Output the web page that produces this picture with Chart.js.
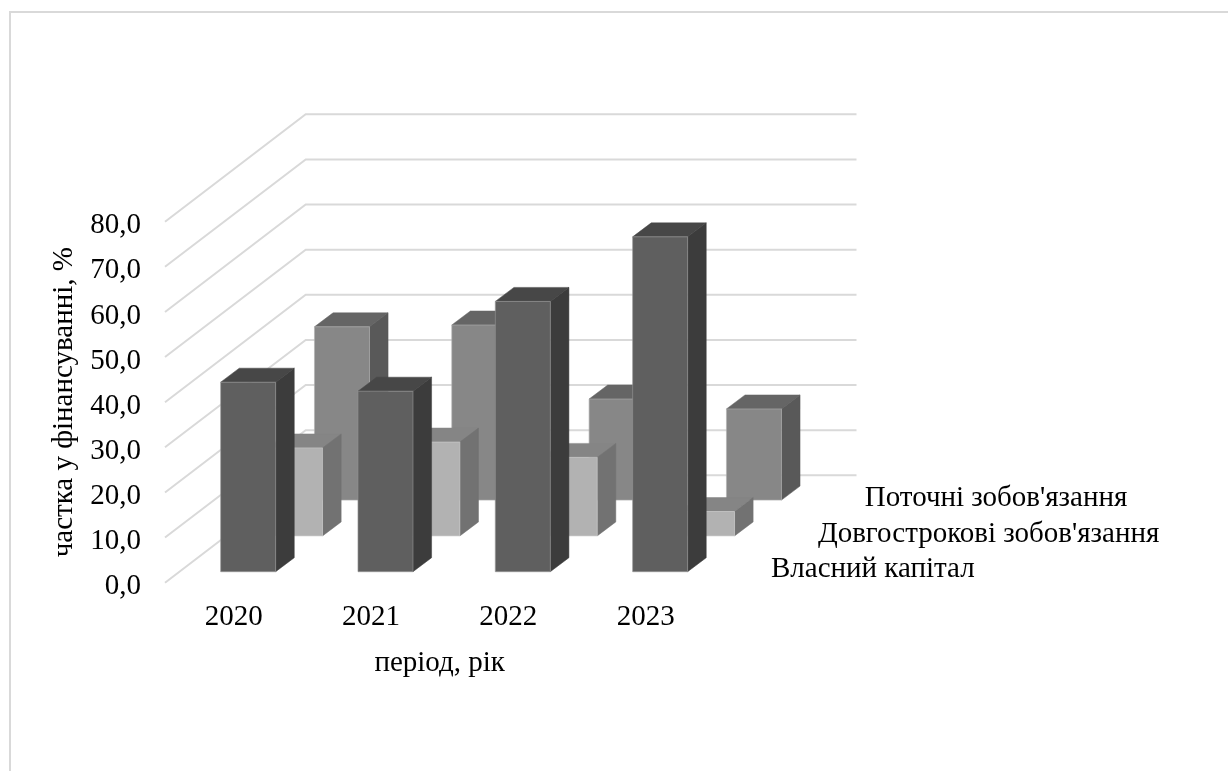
<!DOCTYPE html>
<html lang="uk">
<head>
<meta charset="utf-8">
<title>Структура фінансування</title>
<script src="https://cdn.jsdelivr.net/npm/chart.js@4/dist/chart.umd.js"></script>
<style>
    html, body { margin: 0; padding: 0; background: #fff; overflow: hidden; }
    canvas { display: block; }
</style>
</head>
<body>
<canvas id="financeChart" width="1228" height="771"></canvas>
<script>
const years = ['2020', '2021', '2022', '2023'];
const equity = [42.0, 40.0, 59.9, 74.2];
const longTerm = [19.5, 20.8, 17.4, 5.4];
const current = [38.4, 38.8, 22.4, 20.2];

const FONT = 'Liberation Serif';
const FONT_SIZE = 29;
const GRID = '#d9d9d9';

// one depth slot of the fake 3d floor, and how far a prism reaches inside it
const SLOT_DX = 46.9, SLOT_DY = -35.8;
const BAR_DX = 18.6, BAR_DY = -14;
const INSET_X = 14.5, INSET_Y = -11;

function poly(ctx, color, pts) {
    ctx.fillStyle = color;
    ctx.strokeStyle = color;
    ctx.lineWidth = 0.5;
    ctx.beginPath();
    pts.forEach((p, i) => i ? ctx.lineTo(p[0], p[1]) : ctx.moveTo(p[0], p[1]));
    ctx.closePath();
    ctx.fill();
    ctx.stroke();
}

// regular bar controller, except each element comes out as a prism pushed back into its slot
class Bar3dController extends Chart.BarController {
    draw() {
        const ctx = this.chart.ctx;
        const ds = this.getDataset();
        const i = this.index;
        const ox = INSET_X + i * SLOT_DX;
        const oy = INSET_Y + i * SLOT_DY;
        this.getMeta().data.forEach(bar => {
            const l = bar.x - bar.width / 2 + ox;
            const r = bar.x + bar.width / 2 + ox;
            const t = bar.y + oy;
            const b = bar.base + oy;
            poly(ctx, ds.topColor, [[l, t], [r, t], [r + BAR_DX, t + BAR_DY], [l + BAR_DX, t + BAR_DY]]);
            poly(ctx, ds.sideColor, [[r, t], [r + BAR_DX, t + BAR_DY], [r + BAR_DX, b + BAR_DY], [r, b]]);
            poly(ctx, ds.faceColor, [[l, t], [r, t], [r, b], [l, b]]);
            // pale rim round the front face
            ctx.strokeStyle = 'rgba(255,255,255,0.22)';
            ctx.lineWidth = 1;
            ctx.strokeRect(l, t, r - l, b - t);
        });
    }
}
Bar3dController.id = 'bar3d';
Bar3dController.defaults = Chart.BarController.defaults;
Chart.register(Bar3dController);

const walls = {
    id: 'walls',
    beforeDraw(chart) {
        const ctx = chart.ctx;
        ctx.save();
        ctx.strokeStyle = GRID;
        ctx.lineWidth = 2;
        ctx.beginPath();
        ctx.moveTo(10, 771);
        ctx.lineTo(10, 12);
        ctx.lineTo(1228, 12);
        ctx.stroke();
        ctx.restore();
    },
    beforeDatasetsDraw(chart) {
        const ctx = chart.ctx;
        const { x: xs, y: ys } = chart.scales;
        const dx = SLOT_DX * 3, dy = SLOT_DY * 3;
        ctx.save();
        ctx.strokeStyle = GRID;
        ctx.lineWidth = 2;
        ys.ticks.forEach(tick => {
            const py = ys.getPixelForValue(tick.value);
            ctx.beginPath();
            ctx.moveTo(xs.left, py);
            ctx.lineTo(xs.left + dx, py + dy);
            ctx.lineTo(xs.right + dx + 1.5, py + dy);
            ctx.stroke();
        });
        ctx.restore();
    },
    afterDraw(chart) {
        // series names run along the depth edge of the floor
        const ctx = chart.ctx;
        const { x: xs, y: ys } = chart.scales;
        ctx.save();
        ctx.font = FONT_SIZE + 'px "' + FONT + '"';
        ctx.fillStyle = '#000';
        ctx.textBaseline = 'middle';
        chart.data.datasets.forEach((ds, i) => {
            ctx.fillText(ds.label, xs.right + 56.7 + i * SLOT_DX, ys.bottom - 13 + i * SLOT_DY);
        });
        ctx.restore();
    }
};

new Chart(document.getElementById('financeChart'), {
    type: 'bar3d',
    data: {
        labels: years,
        datasets: [
            { label: 'Власний капітал', data: equity, faceColor: '#5f5f5f', topColor: '#474747', sideColor: '#3c3c3c' },
            { label: "Довгострокові зобов'язання", data: longTerm, faceColor: '#b2b2b2', topColor: '#858585', sideColor: '#727272' },
            { label: "Поточні зобов'язання", data: current, faceColor: '#878787', topColor: '#656565', sideColor: '#595959' }
        ].map(ds => ({ ...ds, barThickness: 55, grouped: false, clip: false }))
    },
    plugins: [walls],
    options: {
        responsive: false,
        animation: false,
        layout: { padding: { left: 46.5, top: 221.7, right: 513.7, bottom: 90 } },
        plugins: { legend: { display: false }, tooltip: { enabled: false } },
        scales: {
            x: {
                type: 'category',
                offset: true,
                grid: { display: false },
                border: { display: false },
                afterFit(scale) { scale.height = 98.3; },
                ticks: { color: '#000', padding: 9, font: { family: FONT, size: FONT_SIZE }, maxRotation: 0 },
                title: { display: true, text: 'період, рік', color: '#000', padding: { top: 8, bottom: 0 }, font: { family: FONT, size: FONT_SIZE } }
            },
            y: {
                type: 'linear',
                min: 0,
                max: 80,
                grid: { display: false },
                border: { display: false },
                afterFit(scale) { scale.width = 118.5; },
                ticks: {
                    stepSize: 10,
                    color: '#000',
                    padding: 16,
                    labelOffset: 4,
                    font: { family: FONT, size: FONT_SIZE },
                    callback: v => v.toFixed(1).replace('.', ',')
                },
                title: { display: true, text: 'частка у фінансуванні, %', color: '#000', padding: 0, font: { family: FONT, size: FONT_SIZE } }
            }
        }
    }
});
</script>
</body>
</html>
